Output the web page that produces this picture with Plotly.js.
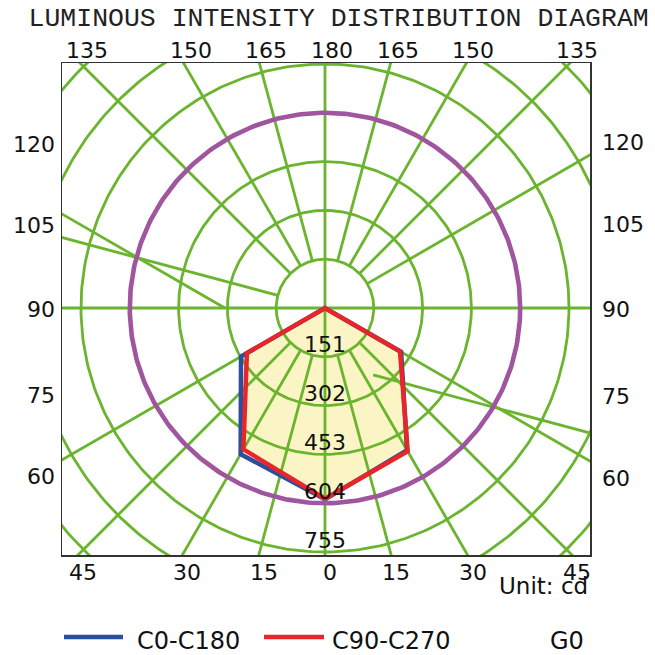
<!DOCTYPE html>
<html><head><meta charset="utf-8">
<script src="https://cdn.plot.ly/plotly-3.0.1.min.js"></script>
<style>html,body{margin:0;padding:0;background:#fff}#chart{width:655px;height:655px}</style>
</head><body><div id="chart"></div>
<script>
// ---- data (cd) ----
const gammaAngles = [0, 30, 60, 90];
const c0Values   = [592, 508, 272, 0];   // C0 (right half)
const c180Values = [592, 522, 300, 0];   // C180 (left half)
const c90Values  = [590, 512, 268, 0];   // C90 (right half)
const c270Values = [590, 505, 279, 0];   // C270 (left half)
const ringValues = [151, 302, 453, 604, 755, 906, 1057];
const ringLabels = ['151', '302', '453', '604', '755'];
const highlightRing = 604;
const labelAngles = [0, 15, 30, 45, 60, 75, 90, 105, 120, 135, 150, 165, 180];
const radialRight = [15, 30, 45, 60, 120, 135, 150, 165];
const radialLeft  = [15, 30, 45, 60, 105, 135, 150, 165];
const seriesNames = ['C0-C180', 'C90-C270', 'G0'];

// ---- geometry / layout ----
const W = 655, H = 655;
const M = {l: 62, r: 65, t: 63, b: 100};
const XR = [-813.7, 820], YR = [-764.2, 758];
const green = '#6AB42E', purple = '#A0559F', blue = '#2C4E9E', red = '#E8262A', fillCol = '#FBF5C6';
const FONT = 'DejaVu Sans, Verdana, sans-serif';
const rad = d => d * Math.PI / 180;
const pt = (I, g, s) => [s * I * Math.sin(rad(g)), -I * Math.cos(rad(g))];

function curve(right, left) {
  const xs = [], ys = [];
  for (let i = 0; i < gammaAngles.length; i++) { const p = pt(right[i], gammaAngles[i], 1); xs.push(p[0]); ys.push(p[1]); }
  for (let i = gammaAngles.length - 1; i >= 0; i--) { const p = pt(left[i], gammaAngles[i], -1); xs.push(p[0]); ys.push(p[1]); }
  return {xs, ys};
}

const traces = [];
const red0 = curve(c90Values, c270Values);
traces.push({x: red0.xs, y: red0.ys, mode: 'lines', fill: 'toself', fillcolor: fillCol, line: {width: 0, color: fillCol}, hoverinfo: 'skip'});

// rings
{
  const xs = [], ys = [];
  ringValues.forEach(r => {
    for (let a = 0; a <= 360; a += 1) { xs.push(r * Math.cos(rad(a))); ys.push(r * Math.sin(rad(a))); }
    xs.push(null); ys.push(null);
  });
  traces.push({x: xs, y: ys, mode: 'lines', line: {color: green, width: 2.8}, hoverinfo: 'skip'});
}
// radial lines
{
  const xs = [], ys = [];
  const far = 2000, r0 = ringValues[0];
  radialRight.forEach(g => { const a = pt(r0, g, 1), b = pt(far, g, 1); xs.push(a[0], b[0], null); ys.push(a[1], b[1], null); });
  radialLeft.forEach(g => { const a = pt(r0, g, -1), b = pt(far, g, -1); xs.push(a[0], b[0], null); ys.push(a[1], b[1], null); });
  xs.push(0, 0, null, -far, far, null); ys.push(-far, far, null, 0, 0, null);
  // two displaced grid strokes present in the source drawing
  const odd = [{x0: -310, y0: 0, dir: 150}, {x0: 149, y0: -207, dir: -15}];
  odd.forEach(o => { xs.push(o.x0, o.x0 + far * Math.cos(rad(o.dir)), null); ys.push(o.y0, o.y0 + far * Math.sin(rad(o.dir)), null); });
  traces.push({x: xs, y: ys, mode: 'lines', line: {color: green, width: 2.8}, hoverinfo: 'skip'});
}
// highlighted ring
{
  const xs = [], ys = [];
  for (let a = 0; a <= 360; a += 1) { xs.push(highlightRing * Math.cos(rad(a))); ys.push(highlightRing * Math.sin(rad(a))); }
  traces.push({x: xs, y: ys, mode: 'lines', line: {color: purple, width: 4.6}, hoverinfo: 'skip'});
}
const blue0 = curve(c0Values, c180Values);
traces.push({x: blue0.xs, y: blue0.ys, mode: 'lines', name: seriesNames[0], line: {color: blue, width: 4.5}, hoverinfo: 'skip'});
traces.push({x: red0.xs, y: red0.ys, mode: 'lines', name: seriesNames[1], line: {color: red, width: 4.5}, hoverinfo: 'skip'});

// annotations
const ann = [];
ringLabels.forEach((t, i) => ann.push({x: 0, y: -ringValues[i], xref: 'x', yref: 'y', text: t, showarrow: false,
  yanchor: 'middle', xanchor: 'center', yshift: 12, font: {family: FONT, size: 22, color: '#111'}}));

labelAngles.forEach(g => {
  const sides = (g === 0 || g === 180) ? [0] : [-1, 1];
  sides.forEach(s => {
    const sx = Math.sin(rad(g)), cy = -Math.cos(rad(g));
    const tx = Math.abs(sx) > 1e-9 ? (s < 0 ? -XR[0] : XR[1]) / Math.abs(sx) : Infinity;
    const ty = Math.abs(cy) > 1e-9 ? (cy > 0 ? YR[1] / cy : -YR[0] / -cy) : Infinity;
    const f = {family: FONT, size: 22, color: '#111'};
    if (ty <= tx) {
      const xi = (s === 0 ? 0 : s) * sx * ty;
      if (cy > 0) ann.push({x: xi, xref: 'x', y: 1, yref: 'paper', text: String(g), showarrow: false, xanchor: 'center', yanchor: 'middle', yshift: 13, xshift: 7, font: f});
      else ann.push({x: xi, xref: 'x', y: 0, yref: 'paper', text: String(g), showarrow: false, xanchor: 'center', yanchor: 'middle', yshift: -17, xshift: 5, font: f});
    } else {
      const yi = cy * tx;
      const ys = yi > 1 ? 12 : (yi < -1 ? -17 : -1);
      if (s < 0) ann.push({x: 0, xref: 'paper', y: yi, yref: 'y', text: String(g), showarrow: false, xanchor: 'right', yanchor: 'middle', xshift: -5, yshift: ys, font: f});
      else ann.push({x: 1, xref: 'paper', y: yi, yref: 'y', text: String(g), showarrow: false, xanchor: 'left', yanchor: 'middle', xshift: 10, yshift: ys, font: f});
    }
  });
});

const pw = W - M.l - M.r, ph = H - M.t - M.b;
const px2x = p => (p - M.l) / pw, px2y = p => (H - M.b - p) / ph;
ann.push({x: 1, xref: 'paper', y: px2y(586), yref: 'paper', text: 'Unit: cd', showarrow: false, xanchor: 'right', yanchor: 'middle', font: {family: FONT, size: 23, color: '#111'}});
const legendText = [{t: seriesNames[0], x: 135}, {t: seriesNames[1], x: 330}, {t: seriesNames[2], x: 548}];
legendText.forEach(l => ann.push({x: px2x(l.x), xref: 'paper', y: px2y(641), yref: 'paper', text: l.t, showarrow: false, xanchor: 'left', yanchor: 'middle', font: {family: FONT, size: 24, color: '#111'}}));

const shapes = [
  {type: 'line', xref: 'paper', yref: 'paper', x0: px2x(64), x1: px2x(123), y0: px2y(637), y1: px2y(637), line: {color: blue, width: 4.5}},
  {type: 'line', xref: 'paper', yref: 'paper', x0: px2x(264), x1: px2x(324), y0: px2y(637), y1: px2y(637), line: {color: red, width: 4.5}}
];

const axisCommon = {showgrid: false, zeroline: false, showticklabels: false, ticks: '', showline: true, mirror: true, linecolor: '#333', linewidth: 1.5, fixedrange: true};
const layout = {
  width: W, height: H, margin: M, showlegend: false,
  paper_bgcolor: '#fff', plot_bgcolor: '#fff',
  title: {text: 'LUMINOUS INTENSITY DISTRIBUTION DIAGRAM', font: {family: 'Liberation Mono, Courier New, monospace', size: 26.5, color: '#222'},
    x: 0.517, xanchor: 'center', xref: 'container', y: 1 - 17 / 655, yanchor: 'middle', yref: 'container'},
  xaxis: Object.assign({range: XR}, axisCommon),
  yaxis: Object.assign({range: YR}, axisCommon),
  annotations: ann, shapes: shapes
};
Plotly.newPlot('chart', traces, layout, {displayModeBar: false, staticPlot: true});
</script></body></html>
